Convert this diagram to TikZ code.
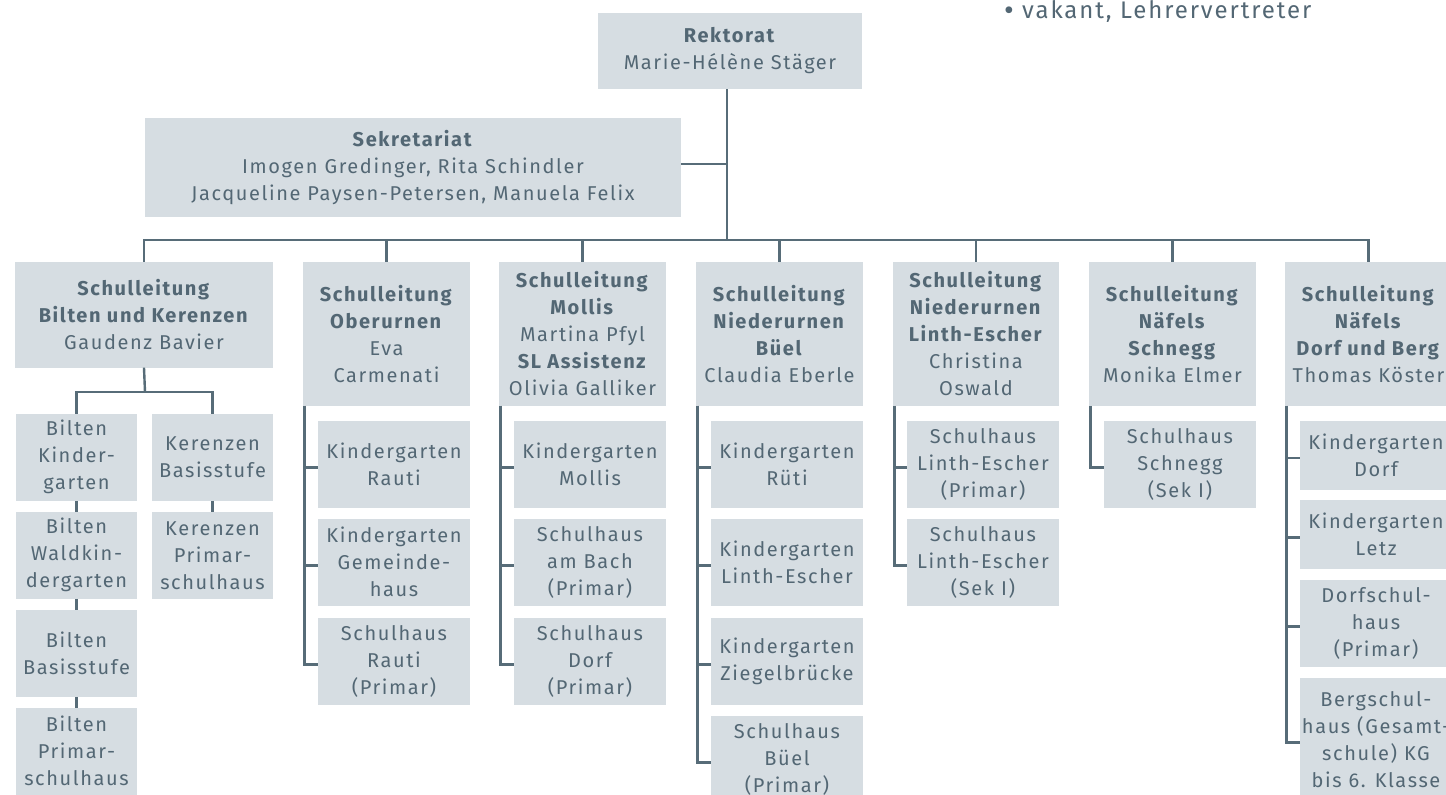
\documentclass[tikz,border=0pt]{standalone}
\usepackage{fontspec}
\setmainfont{Fira Sans}[LetterSpace=8.0]
\definecolor{boxfill}{HTML}{D6DDE2}
\definecolor{txt}{HTML}{536774}
\definecolor{ln}{HTML}{576C78}
\tikzset{
  box/.style={fill=boxfill, text=txt, inner sep=0pt, align=center,
    font={\fontsize{20pt}{27pt}\selectfont}},
  hbox/.style={box, minimum width=167pt, minimum height=143.7pt},
  cbox/.style={box, minimum width=152pt, minimum height=86.6pt},
  bbox/.style={box, minimum width=121pt, minimum height=86.6pt},
  conn/.style={draw=ln, line width=2.4pt},
}
\begin{document}
\begin{tikzpicture}[x=1pt,y=-1pt]
\clip (0,0) rectangle (1446,795);
\fill[white] (0,0) rectangle (1446,795);
% top text
\node[anchor=base west, text=txt, inner sep=0pt, font={\fontsize{24pt}{27pt}\selectfont}] (vak) at (1004,18) {\raisebox{-2pt}{\fontsize{30pt}{27pt}\selectfont•} vakant, Lehrervertreter};
% Rektorat, Sekretariat
\node[box, minimum width=264pt, minimum height=76pt] (rek) at (730,51) {\textbf{Rektorat}\\Marie-Hélène Stäger};
\node[box, minimum width=536pt, minimum height=98.7pt] (sek) at (413,167.3) {\textbf{Sekretariat}\\Imogen Gredinger, Rita Schindler\\Jacqueline Paysen-Petersen, Manuela Felix};
\coordinate (bus) at (727,240);
% headers
\node[box, minimum width=258pt, minimum height=105.5pt] (h1) at (144,314.75) {\textbf{Schulleitung}\\\textbf{Bilten und Kerenzen}\\Gaudenz Bavier};
\node[hbox] (h2) at (386.5,333.85) {\textbf{Schulleitung}\\\textbf{Oberurnen}\\Eva\\Carmenati};
\node[hbox] (h3) at (582.5,333.85) {\textbf{Schulleitung}\\\textbf{Mollis}\\Martina Pfyl\\\textbf{SL Assistenz}\\Olivia Galliker};
\node[hbox] (h4) at (779.5,333.85) {\textbf{Schulleitung}\\\textbf{Niederurnen}\\\textbf{Büel}\\Claudia Eberle};
\node[hbox, minimum width=166pt] (h5) at (976,333.85) {\textbf{Schulleitung}\\\textbf{Niederurnen}\\\textbf{Linth-Escher}\\Christina\\Oswald};
\node[hbox] (h6) at (1172.5,333.85) {\textbf{Schulleitung}\\\textbf{Näfels}\\\textbf{Schnegg}\\Monika Elmer};
\node[hbox] (h7) at (1368.5,333.85) {\textbf{Schulleitung}\\\textbf{Näfels}\\\textbf{Dorf und Berg}\\Thomas Köster};
% Bilten / Kerenzen children
\node[bbox] (b1) at (76.5,457.3) {Bilten\\Kinder-\\garten};
\node[bbox] (b2) at (76.5,555.3) {Bilten\\Waldkin-\\dergarten};
\node[bbox] (b3) at (76.5,653.3) {Bilten\\Basisstufe};
\node[bbox] (b4) at (76.5,751.3) {Bilten\\Primar-\\schulhaus};
\node[bbox] (k1) at (212.5,457.3) {Kerenzen\\Basisstufe};
\node[bbox] (k2) at (212.5,555.3) {Kerenzen\\Primar-\\schulhaus};
% Oberurnen
\node[cbox] (c21) at (394,464.3) {Kindergarten\\Rauti};
\node[cbox] (c22) at (394,562.3) {Kindergarten\\Gemeinde-\\haus};
\node[cbox] (c23) at (394,661.3) {Schulhaus\\Rauti\\(Primar)};
% Mollis
\node[cbox] (c31) at (590,464.3) {Kindergarten\\Mollis};
\node[cbox] (c32) at (590,562.3) {Schulhaus\\am Bach\\(Primar)};
\node[cbox] (c33) at (590,661.3) {Schulhaus\\Dorf\\(Primar)};
% Büel
\node[cbox] (c41) at (787,464.3) {Kindergarten\\Rüti};
\node[cbox] (c42) at (787,562.3) {Kindergarten\\Linth-Escher};
\node[cbox] (c43) at (787,661.3) {Kindergarten\\Ziegelbrücke};
\node[cbox] (c44) at (787,759.3) {Schulhaus\\Büel\\(Primar)};
% Linth-Escher
\node[cbox] (c51) at (983,464.3) {Schulhaus\\Linth-Escher\\(Primar)};
\node[cbox] (c52) at (983,562.3) {Schulhaus\\Linth-Escher\\(Sek I)};
% Schnegg
\node[cbox] (c61) at (1180,464.3) {Schulhaus\\Schnegg\\(Sek I)};
% Dorf und Berg
\node[cbox, minimum height=68.5pt] (c71) at (1376,455.25) {Kindergarten\\Dorf};
\node[cbox, minimum height=68.7pt] (c72) at (1376,534.35) {Kindergarten\\Letz};
\node[cbox, minimum height=86.8pt] (c73) at (1376,623.4) {Dorfschul-\\haus\\(Primar)};
\node[cbox, minimum height=123pt] (c74) at (1376,739.5) {Bergschul-\\haus (Gesamt-\\schule) KG\\bis 6. Klasse};
% connectors: top
\draw[conn] (rek.south -| bus) -- (bus);
\draw[conn] (sek.east |- 0,164) -- (727,164);
\draw[conn] (h1.north) |- (bus) -| (h7.north);
\foreach \h in {h2,h3,h4,h5,h6} \draw[conn] (\h.north) -- (\h.north |- bus);
% Bilten
\coordinate (bj) at (145,391.8);
\draw[conn] (h1.south) -- (bj);
\draw[conn] (b1.north) |- (bj) -| (k1.north);
\draw[conn] (b1.south) -- (b2.north);
\draw[conn] (b2.south) -- (b3.north);
\draw[conn] (b3.south) -- (b4.north);
\draw[conn] (k1.south) -- (k2.north);
% column children
\foreach \h/\cs in {h2/{c21,c22,c23}, h3/{c31,c32,c33}, h4/{c41,c42,c43,c44}, h5/{c51,c52}, h6/{c61}, h7/{c71,c72,c73,c74}}
  \foreach \c in \cs
    \draw[conn] ([xshift=1.5pt]\h.south west) |- ([yshift=-3pt]\c.west);
\end{tikzpicture}
\end{document}
